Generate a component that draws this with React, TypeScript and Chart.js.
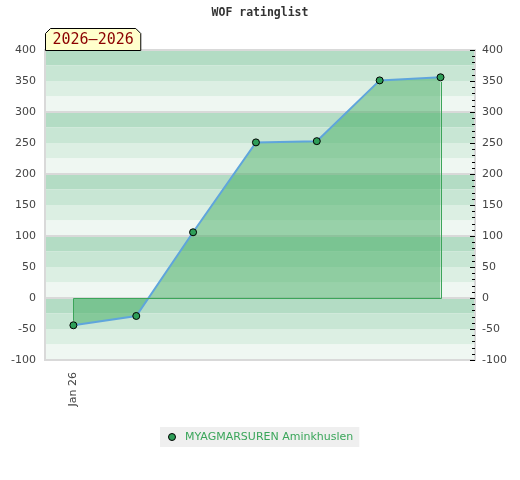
import React, { useEffect, useRef } from "react";
import { Chart, registerables } from "chart.js";

Chart.register(...registerables);

const TITLE = "WOF ratinglist";
const PERIOD = "2026–2026";
const SERIES_NAME = "MYAGMARSUREN Aminkhuslen";
const DATES = ["2026-01-01", "2026-02-01", "2026-03-01", "2026-04-01", "2026-05-01", "2026-06-01", "2026-07-01"];
const RATINGS = [-44, -29, 106, 251, 253, 351, 356];
const X_TICK_DATES = ["2026-01-01"];
const X_TICK_LABELS = ["Jan 26"];
const X_RANGE = ["2025-12-18", "2026-07-18"];
const Y_MIN = -100;
const Y_MAX = 400;
const Y_STEP = 50;
const BAND_STEP = 25;
const MINOR_STEP = 10;

const BAND_COLORS = ["#b3dcc4", "#c8e6d4", "#dcefe3", "#eff7f2"];
const GRID_GRAY = "#d9d9d9";
const FILL_COLOR = "rgba(65,172,96,0.5)";
const OUTLINE_COLOR = "#3ca55a";
const LINE_COLOR = "#5fa5dc";
const POINT_COLOR = "#2e9e58";
const LEGEND_TEXT = "#3aa65a";
const TICK_COLOR = "#444";
const FONT = "'DejaVu Sans', sans-serif";
const MONO = "'DejaVu Sans Mono', monospace";

const DAY = 86400000;
const toDay = (s: string) => {
  const [y, m, d] = s.split("-").map(Number);
  return Date.UTC(y, m - 1, d) / DAY;
};

const bandsPlugin = {
  id: "bands",
  beforeDraw(chart: any) {
    const { ctx, chartArea } = chart;
    const ys = chart.scales.y;
    ctx.save();
    for (let v = Y_MAX; v > Y_MIN; v -= BAND_STEP) {
      const idx = Math.round((Math.ceil(v / 100) * 100 - v) / BAND_STEP) % 4;
      const top = ys.getPixelForValue(v);
      const bot = ys.getPixelForValue(v - BAND_STEP);
      ctx.fillStyle = BAND_COLORS[idx];
      ctx.fillRect(chartArea.left, top, chartArea.right - chartArea.left, bot - top);
    }
    ctx.restore();
  },
};

const outlinePlugin = {
  id: "outline",
  afterDatasetsDraw(chart: any) {
    const { ctx } = chart;
    const ys = chart.scales.y;
    const pts = chart.getDatasetMeta(0).data;
    if (!pts.length) return;
    const y0 = Math.round(ys.getPixelForValue(0)) + 0.5;
    const first = pts[0];
    const last = pts[pts.length - 1];
    const fx = Math.round(first.x) + 0.5;
    const lx = Math.round(last.x) + 0.5;
    const r = 4.5;
    ctx.save();
    ctx.strokeStyle = OUTLINE_COLOR;
    ctx.lineWidth = 1;
    ctx.beginPath();
    ctx.moveTo(fx, first.y + (first.y < y0 ? r : -r));
    ctx.lineTo(fx, y0);
    ctx.lineTo(lx, y0);
    ctx.lineTo(lx, last.y + (last.y < y0 ? r : -r));
    ctx.stroke();
    ctx.restore();
  },
};

const decorPlugin = {
  id: "decor",
  afterDraw(chart: any) {
    const { ctx, chartArea, width } = chart;
    const ys = chart.scales.y;
    ctx.save();
    // minor ticks on right edge, inside
    ctx.strokeStyle = "#000";
    ctx.lineWidth = 1;
    ctx.beginPath();
    for (let v = Y_MIN; v <= Y_MAX; v += MINOR_STEP) {
      const len = v % Y_STEP === 0 ? 5 : 3;
      const py = Math.round(ys.getPixelForValue(v)) + 0.5;
      ctx.moveTo(chartArea.right - len, py);
      ctx.lineTo(chartArea.right, py);
    }
    ctx.stroke();

    // period badge
    ctx.font = `15px ${MONO}`;
    const tw = ctx.measureText(PERIOD).width;
    const bw = tw + 14;
    const bh = 22;
    const bx = Math.round(chartArea.left) + 0.5;
    const by = Math.round(chartArea.top) + 0.5 - bh;
    const ch = 5;
    ctx.beginPath();
    ctx.moveTo(bx, by + bh);
    ctx.lineTo(bx, by + ch);
    ctx.lineTo(bx + ch, by);
    ctx.lineTo(bx + bw - ch, by);
    ctx.lineTo(bx + bw, by + ch);
    ctx.lineTo(bx + bw, by + bh);
    ctx.closePath();
    ctx.fillStyle = "#ffffcc";
    ctx.fill();
    ctx.strokeStyle = "#000";
    ctx.stroke();
    ctx.fillStyle = "#8b0000";
    ctx.textBaseline = "middle";
    ctx.textAlign = "center";
    ctx.fillText(PERIOD, bx + bw / 2, by + bh / 2 + 1);

    // legend
    ctx.font = `11px ${FONT}`;
    const lw = ctx.measureText(SERIES_NAME).width;
    const boxW = lw + 31;
    const boxH = 20;
    const boxX = Math.round(width / 2 - boxW / 2);
    const boxY = Math.round(chartArea.bottom + 67);
    ctx.fillStyle = "#efefef";
    ctx.fillRect(boxX, boxY, boxW, boxH);
    const cy = boxY + boxH / 2;
    ctx.beginPath();
    ctx.arc(boxX + 12, cy, 3.5, 0, Math.PI * 2);
    ctx.fillStyle = POINT_COLOR;
    ctx.fill();
    ctx.strokeStyle = "#000";
    ctx.lineWidth = 1;
    ctx.stroke();
    ctx.fillStyle = LEGEND_TEXT;
    ctx.textAlign = "left";
    ctx.textBaseline = "middle";
    ctx.fillText(SERIES_NAME, boxX + 25, cy);
    ctx.restore();
  },
};

export default function App() {
  const ref = useRef<HTMLCanvasElement | null>(null);

  useEffect(() => {
    if (!ref.current) return;
    const points = DATES.map((d, i) => ({ x: toDay(d), y: RATINGS[i] }));
    const tickDays = X_TICK_DATES.map(toDay);
    const chart = new Chart(ref.current, {
      type: "line",
      data: {
        datasets: [
          {
            label: SERIES_NAME,
            data: points,
            yAxisID: "y",
            borderColor: LINE_COLOR,
            borderWidth: 2,
            backgroundColor: FILL_COLOR,
            fill: "origin",
            tension: 0,
            pointRadius: 3.5,
            pointBackgroundColor: POINT_COLOR,
            pointBorderColor: "#000",
            pointBorderWidth: 1,
          },
        ],
      },
      options: {
        animation: false,
        responsive: true,
        maintainAspectRatio: false,
        layout: { padding: { left: 0, right: 0, top: 0, bottom: 70 } },
        plugins: {
          legend: { display: false },
          tooltip: { enabled: false },
          title: {
            display: true,
            text: TITLE,
            color: "#333",
            font: { family: MONO, size: 11.5, weight: "bold" },
            padding: { top: 6, bottom: 30.2 },
          },
        },
        scales: {
          x: {
            type: "linear",
            min: toDay(X_RANGE[0]),
            max: toDay(X_RANGE[1]),
            grid: { display: false, drawTicks: false },
            border: { display: false },
            afterBuildTicks: (scale: any) => {
              scale.ticks = tickDays.map((v) => ({ value: v }));
            },
            afterFit: (scale: any) => {
              scale.height = 50;
            },
            ticks: {
              autoSkip: false,
              minRotation: 90,
              maxRotation: 90,
              padding: 12,
              color: TICK_COLOR,
              font: { family: FONT, size: 11 },
              callback: (v: any) => {
                const i = tickDays.indexOf(Number(v));
                return i >= 0 ? X_TICK_LABELS[i] : "";
              },
            },
          },
          y: {
            position: "left",
            min: Y_MIN,
            max: Y_MAX,
            afterFit: (scale: any) => {
              scale.width = 45;
            },
            grid: {
              drawTicks: false,
              lineWidth: 2,
              color: (c: any) => (c.tick && c.tick.value % 100 === 0 ? GRID_GRAY : "rgba(0,0,0,0)"),
            },
            border: { display: true, color: GRID_GRAY, width: 2 },
            ticks: {
              stepSize: Y_STEP,
              padding: 9,
              color: TICK_COLOR,
              font: { family: FONT, size: 11 },
            },
          },
          y2: {
            position: "right",
            min: Y_MIN,
            max: Y_MAX,
            afterFit: (scale: any) => {
              scale.width = 45;
            },
            grid: { drawOnChartArea: false, drawTicks: false },
            border: { display: true, color: GRID_GRAY, width: 2 },
            ticks: {
              stepSize: Y_STEP,
              padding: 7,
              color: TICK_COLOR,
              font: { family: FONT, size: 11 },
            },
          },
        },
      },
      plugins: [bandsPlugin, outlinePlugin, decorPlugin],
    } as any);
    return () => chart.destroy();
  }, []);

  return (
    <div style={{ position: "absolute", left: 0, top: 0, width: 520, height: 480, background: "#fff" }}>
      <canvas ref={ref} />
    </div>
  );
}
